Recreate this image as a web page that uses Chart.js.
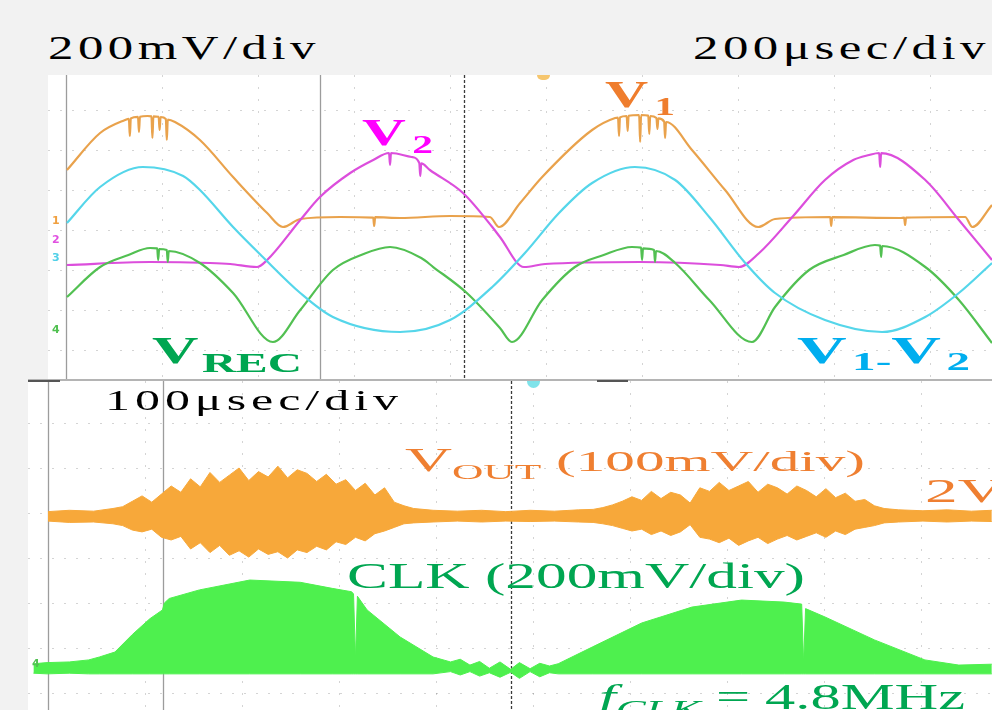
<!DOCTYPE html>
<html>
<head>
<meta charset="utf-8">
<script src="https://cdn.jsdelivr.net/npm/chart.js@4.4.1/dist/chart.umd.min.js"></script>
<style>
  html, body { margin: 0; padding: 0; }
  body {
    width: 992px; height: 710px; overflow: hidden; position: relative;
    background: #f2f2f2;
    font-family: "Liberation Serif", "Times New Roman", serif;
  }
  .panel { position: absolute; background: #fff; }
  #topPanel { left: 48px; top: 75px; width: 944px; height: 305px; }
  #botPanel { left: 28px; top: 381px; width: 964px; height: 329px; }
  #edge { position: absolute; left: 28px; top: 379px; width: 964px; height: 2px; background: #b4b4b4; }
  .mark { position: absolute; }
  .lbl { position: absolute; white-space: nowrap; line-height: 1; transform-origin: 0 0; }
  .b { font-weight: bold; }
  .ch { position: absolute; font: bold 11px "DejaVu Sans", sans-serif; line-height: 1; }
</style>
</head>
<body>
<div class="panel" id="topPanel"><canvas id="topChart" width="944" height="305"></canvas></div>
<div class="panel" id="botPanel"><canvas id="botChart" width="964" height="329"></canvas></div>
<div id="edge"></div>
<div class="mark" style="left:28px; top:380px; width:32px; height:2px; background:#555;"></div>
<div class="mark" style="left:597px; top:380px; width:31px; height:2px; background:#555;"></div>
<div class="mark" style="left:537px; top:75px; width:13px; height:5px; border-radius:0 0 7px 7px; background:#f6c66e;"></div>
<div class="mark" style="left:527px; top:381px; width:13px; height:7px; border-radius:0 0 7px 7px; background:#7fe3ea;"></div>

<div class="lbl" data-w="272" style="left:48px; top:31px; font-size:34px; color:#000; letter-spacing:3px;">200mV/div</div>
<div class="lbl" data-w="297" style="left:693px; top:31px; font-size:34px; color:#000; letter-spacing:3px;">200μsec/div</div>
<div class="lbl" data-w="298" style="left:105px; top:385px; font-size:30px; color:#000; letter-spacing:3px;">100μsec/div</div>

<div class="lbl b" data-w="70" style="left:605px; top:75px; font-size:38px; color:#ef7d2d;">V<span style="font-size:26px; position:relative; top:8px; margin-left:4px;">1</span></div>
<div class="lbl b" data-w="71" style="left:362px; top:113px; font-size:38px; color:#ff00ff;">V<span style="font-size:26px; position:relative; top:8px; margin-left:4px;">2</span></div>
<div class="lbl b" data-w="150" style="left:152px; top:331px; font-size:38px; color:#00a651;">V<span style="font-size:28px; position:relative; top:9px; margin-left:2px;">REC</span></div>
<div class="lbl b" data-w="173" style="left:797px; top:331px; font-size:38px; color:#00aeef;">V<span style="font-size:26px; position:relative; top:7px; margin-left:3px;">1-</span>V<span style="font-size:26px; position:relative; top:7px; margin-left:3px;">2</span></div>

<div class="lbl" data-w="460" style="left:405px; top:444px; font-size:33px; color:#ef7f31;">V<span style="font-size:22px; position:relative; top:8px;">OUT</span><span style="font-size:30px;"> (100mV/div)</span></div>
<div class="lbl" data-w="80" style="left:925px; top:474px; font-size:34px; color:#ef7f31;">2V</div>
<div class="lbl" data-w="458" style="left:347px; top:559px; font-size:35px; color:#00a651;">CLK (200mV/div)</div>
<div class="lbl" data-w="366" style="left:599px; top:680px; font-size:35px; color:#00a651;"><i>f</i><i style="font-size:26px; position:relative; top:9px;">CLK</i> = 4.8MHz</div>

<div class="ch" style="left:52px; top:215px; color:#f0a040;">1</div>
<div class="ch" style="left:52px; top:234px; color:#e050e0;">2</div>
<div class="ch" style="left:52px; top:252px; color:#50d0e8;">3</div>
<div class="ch" style="left:52px; top:324px; color:#50c050;">4</div>
<div class="ch" style="left:32px; top:658px; color:#50c050;">4</div>

<script>
// top screen: time in µs (200 µs/div), level in mV on screen (200 mV/div)
const v1Time = [2, 71, 123, 131, 133, 135, 150, 152, 154, 170, 178, 180, 182, 193, 195, 197, 208, 210, 212, 227, 279, 348, 419, 452, 488, 571, 640, 642, 644, 696, 800, 883, 902, 946, 992, 1096, 1144, 1150, 1152, 1154, 1168, 1170, 1172, 1194, 1196, 1198, 1213, 1215, 1217, 1230, 1232, 1234, 1246, 1248, 1250, 1304, 1373, 1442, 1477, 1592, 1594, 1596, 1738, 1746, 1748, 1750, 1873, 1888, 1929];
const v1Mv = [300, 485, 550, 556, 470, 558, 566, 490, 566, 570, 568, 460, 568, 566, 500, 565, 555, 450, 552, 540, 450, 265, 85, 15, 55, 65, 62, 20, 64, 60, 70, 65, 15, 135, 265, 500, 560, 562, 470, 563, 570, 495, 571, 575, 440, 575, 572, 480, 570, 560, 505, 558, 542, 460, 540, 400, 200, 15, 55, 65, 20, 64, 60, 62, 25, 62, 65, 15, 125];

const v2Time = [2, 175, 300, 342, 398, 419, 488, 529, 592, 640, 673, 675, 677, 720, 736, 738, 740, 758, 827, 888, 904, 954, 998, 1196, 1363, 1402, 1444, 1513, 1581, 1640, 1673, 1694, 1696, 1698, 1790, 1860, 1929];
const v2Mv = [-175, -160, -165, -170, -185, -150, 50, 165, 285, 350, 385, 325, 385, 365, 335, 270, 333, 300, 185, 15, -35, -185, -170, -160, -175, -185, -115, 65, 250, 350, 375, 385, 315, 384, 250, 50, -150];

const vDiffTime = [2, 71, 160, 244, 279, 348, 410, 488, 556, 696, 800, 888, 956, 1027, 1096, 1185, 1269, 1340, 1415, 1477, 1581, 1700, 1790, 1860, 1929];
const vDiffMv = [35, 215, 315, 270, 200, 15, -135, -315, -435, -510, -450, -285, -115, 85, 235, 315, 250, 65, -165, -315, -450, -510, -435, -315, -165];

const vRecTime = [2, 71, 130, 175, 190, 192, 194, 210, 212, 214, 279, 348, 431, 488, 556, 620, 675, 740, 765, 835, 904, 929, 992, 1060, 1120, 1179, 1198, 1200, 1202, 1225, 1227, 1229, 1269, 1340, 1429, 1477, 1548, 1620, 1685, 1696, 1698, 1700, 1790, 1860, 1929];
const vRecMv = [-335, -185, -125, -90, -92, -150, -95, -100, -160, -105, -165, -315, -560, -400, -200, -120, -85, -140, -185, -315, -490, -560, -350, -185, -125, -85, -88, -150, -92, -100, -160, -105, -165, -350, -560, -385, -200, -125, -75, -78, -135, -80, -185, -350, -565];

// bottom screen: time in µs (100 µs/div)
const vOutTime = [0, 22, 47, 67, 77, 87, 97, 107, 117, 127, 137, 147, 157, 167, 177, 187, 197, 207, 217, 227, 237, 247, 257, 267, 277, 287, 297, 307, 317, 327, 337, 347, 357, 367, 377, 397, 422, 447, 472, 497, 522, 547, 562, 572, 582, 592, 602, 612, 622, 632, 642, 652, 662, 672, 682, 692, 702, 712, 722, 732, 742, 752, 762, 772, 782, 792, 802, 812, 822, 832, 842, 852, 862, 877, 902, 927, 952, 973];
const vOutTopMv = [103, 106, 104, 110, 114, 126, 138, 124, 142, 160, 146, 176, 158, 190, 168, 184, 200, 172, 192, 180, 204, 178, 196, 188, 170, 186, 164, 174, 150, 166, 140, 156, 124, 116, 110, 106, 104, 106, 103, 106, 104, 107, 108, 112, 118, 126, 136, 128, 148, 132, 146, 140, 122, 156, 148, 168, 150, 160, 170, 146, 164, 156, 142, 160, 150, 136, 154, 134, 144, 126, 130, 116, 110, 107, 105, 107, 104, 106];
const vOutBotMv = [82, 79, 80, 76, 72, 62, 58, 64, 46, 40, 48, 20, 34, 12, 28, 6, 16, 2, 20, 8, 14, 0, 18, 12, 26, 18, 36, 30, 46, 38, 54, 60, 68, 76, 78, 80, 82, 80, 82, 81, 82, 80, 79, 76, 72, 66, 60, 64, 52, 60, 50, 58, 74, 46, 42, 34, 44, 28, 38, 46, 32, 42, 50, 40, 48, 56, 46, 60, 52, 64, 68, 72, 78, 80, 82, 80, 82, 81];

const clkTime = [-15, -1, 22, 42, 53, 69, 87, 105, 118, 120, 125, 156, 208, 260, 293, 313, 315, 317, 319, 329, 363, 397, 415, 425, 435, 445, 455, 466, 477, 486, 497, 507, 517, 526, 561, 612, 664, 715, 759, 777, 779, 781, 801, 852, 904, 939, 973];
const clkTopMv = [-470, -465, -462, -453, -440, -418, -340, -270, -231, -200, -180, -142, -98, -108, -135, -150, -160, -450, -170, -231, -351, -440, -462, -450, -476, -460, -490, -462, -495, -465, -492, -468, -480, -470, -396, -289, -218, -187, -196, -205, -470, -225, -262, -364, -453, -476, -472];
const clkBotMv = [-512, -515, -512, -515, -515, -515, -515, -515, -515, -515, -515, -515, -515, -515, -515, -515, -515, -515, -515, -515, -515, -515, -505, -520, -505, -525, -510, -530, -508, -535, -505, -528, -510, -515, -515, -515, -515, -515, -515, -515, -515, -515, -515, -515, -515, -515, -515];

const vOutMvPerDiv = 100;
const clkMvPerDiv = 200;

function pts(xs, ys, k = 1) {
  return xs.map((x, i) => ({ x: x, y: ys[i] / k }));
}

// scope graticule: faint dotted divisions, plus the solid and dashed markers
const scopeGrid = {
  id: "scopeGrid",
  beforeDatasetsDraw(chart, args, opts) {
    const { ctx, chartArea: a, scales: { x, y } } = chart;
    const vline = (v) => {
      const px = Math.round(x.getPixelForValue(v)) + 0.5;
      ctx.beginPath(); ctx.moveTo(px, a.top); ctx.lineTo(px, a.bottom); ctx.stroke();
    };
    ctx.save();
    ctx.lineWidth = 1;
    ctx.strokeStyle = "rgba(0,0,0,0.17)";
    ctx.setLineDash([2, 10]);
    opts.xDots.forEach(vline);
    opts.yDots.forEach((v) => {
      const py = Math.round(y.getPixelForValue(v)) + 0.5;
      ctx.beginPath(); ctx.moveTo(a.left, py); ctx.lineTo(a.right, py); ctx.stroke();
    });
    ctx.setLineDash([]);
    ctx.strokeStyle = "#9c9c9c";
    ctx.lineWidth = 1.3;
    opts.solid.forEach(vline);
    ctx.strokeStyle = "#3a3a3a";
    ctx.setLineDash([3, 2]);
    opts.dashed.forEach(vline);
    ctx.restore();
  },
};

function scopeOptions(xMin, xMax, yMin, yMax, grid) {
  return {
    responsive: false,
    animation: false,
    devicePixelRatio: 1,
    layout: { padding: 0 },
    elements: { point: { radius: 0 } },
    plugins: {
      legend: { display: false },
      tooltip: { enabled: false },
      scopeGrid: grid,
    },
    scales: {
      x: { type: "linear", min: xMin, max: xMax, display: false },
      y: { type: "linear", min: yMin, max: yMax, display: false },
    },
  };
}

function trace(data, color) {
  return {
    data: data,
    borderColor: color,
    borderWidth: 2.2,
    cubicInterpolationMode: "monotone",
    fill: false,
  };
}

new Chart(document.getElementById("topChart"), {
  type: "line",
  data: {
    datasets: [
      trace(pts(vDiffTime, vDiffMv), "#55d6ea"),
      trace(pts(vRecTime, vRecMv), "#52c052"),
      trace(pts(v2Time, v2Mv), "#dc4edc"),
      trace(pts(v1Time, v1Mv), "#e9a24c"),
    ],
  },
  options: scopeOptions(-37.5, 1929, -750, 775, {
    xDots: [0, 200, 400, 600, 800, 1000, 1200, 1400, 1600, 1800],
    yDots: [-600, -400, -200, 0, 200, 400, 600],
    solid: [0, 529],
    dashed: [829],
  }),
  plugins: [scopeGrid],
});

function band(top, bottom, color) {
  return [
    { data: top, borderColor: color, borderWidth: 1, tension: 0, fill: false },
    { data: bottom, borderColor: color, borderWidth: 1, tension: 0, fill: "-1", backgroundColor: color },
  ];
}

new Chart(document.getElementById("botChart"), {
  type: "line",
  data: {
    datasets: [
      ...band(pts(vOutTime, vOutTopMv, vOutMvPerDiv), pts(vOutTime, vOutBotMv, vOutMvPerDiv), "#f7a83a"),
      ...band(pts(clkTime, clkTopMv, clkMvPerDiv), pts(clkTime, clkBotMv, clkMvPerDiv), "#4ef04e"),
    ],
  },
  options: scopeOptions(-20.6, 973.2, -3.378, 3.933, {
    xDots: [0, 100, 200, 300, 400, 500, 600, 700, 800, 900],
    yDots: [-3, -2, -1, 0, 1, 2, 3],
    solid: [0, 119],
    dashed: [477],
  }),
  plugins: [scopeGrid],
});

// stretch each label to the width it has on the screenshot
function fitLabels() {
  document.querySelectorAll(".lbl").forEach((el) => {
    el.style.transform = "none";
    const w = el.getBoundingClientRect().width;
    el.style.transform = "scaleX(" + (Number(el.dataset.w) / w) + ")";
  });
}
fitLabels();
if (document.fonts) document.fonts.ready.then(fitLabels);
</script>
</body>
</html>
